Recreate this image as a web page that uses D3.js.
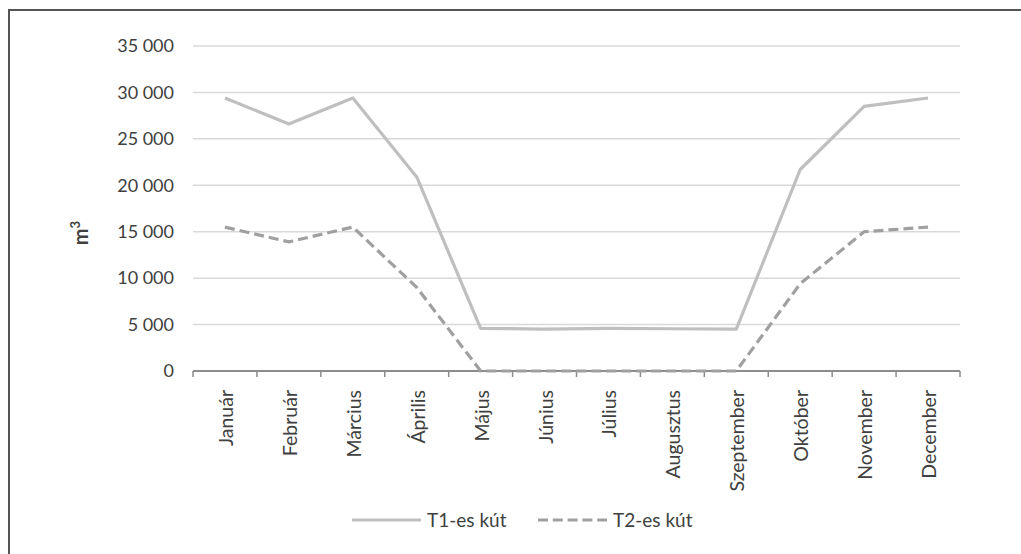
<!DOCTYPE html>
<html>
<head>
<meta charset="utf-8">
<script src="https://cdn.jsdelivr.net/npm/d3@7/dist/d3.min.js"></script>
<style>
  html, body { margin: 0; padding: 0; background: #ffffff; }
  svg { display: block; }
  text { font-family: Lato, "Open Sans", sans-serif; fill: #404040; }
</style>
</head>
<body>
<svg id="chart" width="1021" height="554"></svg>
<script>
// Monthly water withdrawal per well (m³)
const months = ["Január", "Február", "Március", "Április", "Május", "Június",
                "Július", "Augusztus", "Szeptember", "Október", "November", "December"];
const t1Values = [29400, 26600, 29400, 20900, 4600, 4500, 4600, 4550, 4500, 21700, 28500, 29400];
const t2Values = [15500, 13900, 15500, 9000, 0, 0, 0, 0, 0, 9400, 15000, 15500];
const yTicks = [0, 5000, 10000, 15000, 20000, 25000, 30000, 35000];
const seriesNames = ["T1-es kút", "T2-es kút"];

const svg = d3.select("#chart");
const W = 1021, H = 554;
const margin = { left: 193, right: 61, top: 46, bottom: 183 };
const plotW = W - margin.left - margin.right;
const plotH = H - margin.top - margin.bottom;

// outer frame (top and left edges visible)
svg.append("rect")
  .attr("x", 9).attr("y", 10)
  .attr("width", W + 20).attr("height", H + 20)
  .attr("fill", "none").attr("stroke", "#555").attr("stroke-width", 2);

const g = svg.append("g").attr("transform", `translate(${margin.left},${margin.top})`);

const x = d3.scaleBand().domain(months).range([0, plotW]);
const y = d3.scaleLinear().domain([0, 35000]).range([plotH, 0]);

// thousands separated by a space: 35 000
const fmt = v => d3.format(",")(v).replace(/,/g, " ");

// horizontal gridlines
g.append("g")
  .selectAll("line")
  .data(yTicks.filter(v => v > 0))
  .join("line")
  .attr("x1", 0).attr("x2", plotW)
  .attr("y1", d => y(d)).attr("y2", d => y(d))
  .attr("stroke", "#d9d9d9").attr("stroke-width", 1.5);

// y tick labels
const yAxis = d3.axisLeft(y).tickValues(yTicks).tickSize(0).tickPadding(19).tickFormat(fmt);
const yg = g.append("g").call(yAxis);
yg.select(".domain").remove();
yg.selectAll("text").attr("font-size", 18).style("font-family", "Lato, sans-serif").attr("fill", "#404040");

// x axis with ticks between categories
const xg = g.append("g").attr("transform", `translate(0,${plotH})`);
xg.append("line").attr("x1", 0).attr("x2", plotW).attr("y1", 0).attr("y2", 0)
  .attr("stroke", "#8c8c8c").attr("stroke-width", 2);
const edges = months.map(m => x(m)).concat([plotW]);
xg.selectAll("line.tick").data(edges).join("line").attr("class", "tick")
  .attr("x1", d => d).attr("x2", d => d).attr("y1", 0).attr("y2", 6)
  .attr("stroke", "#8c8c8c").attr("stroke-width", 1.5);
xg.selectAll("text").data(months).join("text")
  .attr("transform", d => `translate(${x(d) + x.bandwidth() / 2 + 8},19) rotate(-90)`)
  .attr("text-anchor", "end")
  .attr("font-size", 19.5)
  .text(d => d);

// y axis title
svg.append("text")
  .attr("transform", "translate(88,233) rotate(-90)")
  .attr("text-anchor", "middle")
  .attr("font-size", 20).attr("font-weight", "bold")
  .html("m<tspan baseline-shift='super' font-size='13'>3</tspan>");

// series lines
const line = d3.line().x((d, i) => x(months[i]) + x.bandwidth() / 2).y(d => y(d));
g.append("path").datum(t1Values).attr("d", line)
  .attr("fill", "none").attr("stroke", "#bfbfbf").attr("stroke-width", 3.2)
  .attr("stroke-linejoin", "round");
g.append("path").datum(t2Values).attr("d", line)
  .attr("fill", "none").attr("stroke", "#a0a0a0").attr("stroke-width", 3.2)
  .attr("stroke-dasharray", "10,5");

// legend
const legend = svg.append("g").attr("transform", "translate(0,520)");
const styles = [
  { color: "#bfbfbf", dash: null, x0: 352 },
  { color: "#a0a0a0", dash: "10,4.8", x0: 538 }
];
styles.forEach((s, i) => {
  legend.append("line").attr("x1", s.x0).attr("x2", s.x0 + 69).attr("y1", 0).attr("y2", 0)
    .attr("stroke", s.color).attr("stroke-width", 3.2).attr("stroke-dasharray", s.dash);
  legend.append("text").attr("x", s.x0 + 75).attr("y", 7).attr("font-size", 19).text(seriesNames[i]);
});
</script>
</body>
</html>
